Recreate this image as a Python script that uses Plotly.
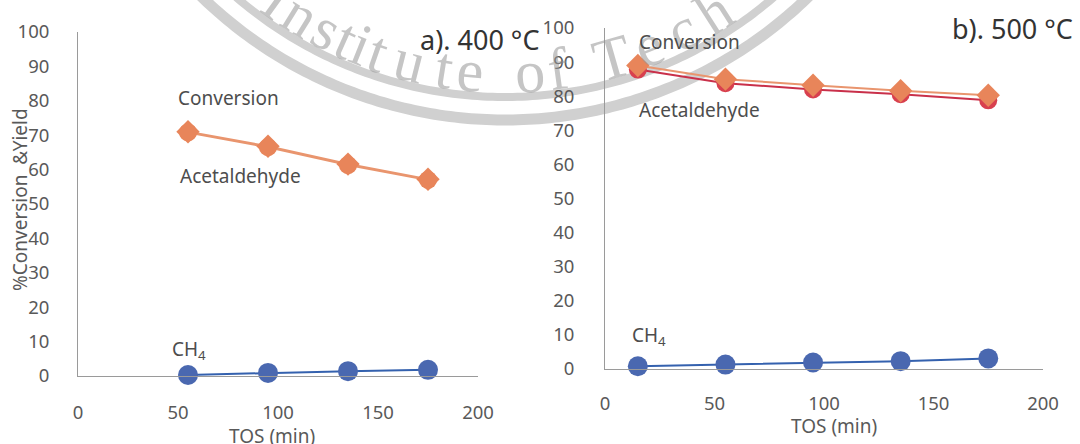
import numpy as np
import plotly.graph_objects as go

# ---- data ----
tos_a = [55, 95, 135, 175]
conv_a = [71.0, 66.8, 61.6, 57.2]
acet_a = [70.8, 66.5, 61.3, 57.0]
ch4_a = [0.3, 0.9, 1.4, 1.8]

tos_b = [15, 55, 95, 135, 175]
conv_b = [89.0, 85.0, 83.2, 81.6, 80.3]
acet_b = [87.8, 83.8, 82.0, 80.6, 78.8]
ch4_b = [0.8, 1.3, 1.9, 2.3, 3.1]

x_ticks = [0, 50, 100, 150, 200]
y_ticks = [0, 10, 20, 30, 40, 50, 60, 70, 80, 90, 100]

W, H = 1080, 444
FONT = "Noto Sans"
TICKC = "#595959"
ORANGE = "#E8855A"
ORANGE_LINE = "#E9956E"
RED = "#D8404E"
RED_LINE = "#C9304A"
BLUE = "#4A68B0"
BLUE_LINE = "#3461AE"


def px(x):
    return x / W


def py(y):
    return 1 - y / H


fig = go.Figure()

# panel a
fig.add_trace(go.Scatter(x=tos_a, y=acet_a, mode="lines+markers", name="Acetaldehyde",
                         line=dict(color=ORANGE_LINE, width=2),
                         marker=dict(symbol="circle", size=18, color=ORANGE),
                         xaxis="x", yaxis="y", cliponaxis=False))
fig.add_trace(go.Scatter(x=tos_a, y=conv_a, mode="lines+markers", name="Conversion",
                         line=dict(color=ORANGE_LINE, width=2),
                         marker=dict(symbol="diamond", size=18, color=ORANGE),
                         xaxis="x", yaxis="y", cliponaxis=False))
fig.add_trace(go.Scatter(x=tos_a, y=ch4_a, mode="lines+markers", name="CH4",
                         line=dict(color=BLUE_LINE, width=2),
                         marker=dict(symbol="circle", size=20, color=BLUE),
                         xaxis="x", yaxis="y", cliponaxis=False))

# panel b
fig.add_trace(go.Scatter(x=tos_b, y=acet_b, mode="lines+markers", name="Acetaldehyde",
                         line=dict(color=RED_LINE, width=2),
                         marker=dict(symbol="circle", size=18, color=RED),
                         xaxis="x2", yaxis="y2", cliponaxis=False))
fig.add_trace(go.Scatter(x=tos_b, y=conv_b, mode="lines+markers", name="Conversion",
                         line=dict(color=ORANGE_LINE, width=2),
                         marker=dict(symbol="diamond", size=18, color=ORANGE),
                         xaxis="x2", yaxis="y2", cliponaxis=False))
fig.add_trace(go.Scatter(x=tos_b, y=ch4_b, mode="lines+markers", name="CH4",
                         line=dict(color=BLUE_LINE, width=2),
                         marker=dict(symbol="circle", size=20, color=BLUE),
                         xaxis="x2", yaxis="y2", cliponaxis=False))

axis_common = dict(showgrid=False, zeroline=False, showline=True, linecolor="#9a9a9a",
                   linewidth=1, ticks="", tickfont=dict(family=FONT, size=18.5, color=TICKC),
                   automargin=False)

fig.update_layout(
    width=W, height=H,
    margin=dict(l=0, r=0, t=0, b=0),
    paper_bgcolor="white", plot_bgcolor="rgba(0,0,0,0)",
    showlegend=False,
    xaxis=dict(domain=[px(78), px(478)], range=[0, 200], tickvals=x_ticks,
               anchor="y", ticklabelstandoff=20, **axis_common),
    yaxis=dict(domain=[py(376), py(32)], range=[0, 100], tickvals=y_ticks,
               anchor="x", ticklabelstandoff=24, **axis_common),
    xaxis2=dict(domain=[px(605), px(1043)], range=[0, 200], tickvals=x_ticks,
                anchor="y2", ticklabelstandoff=18, **axis_common),
    yaxis2=dict(domain=[py(369), py(28)], range=[0, 100], tickvals=y_ticks,
                anchor="x2", ticklabelstandoff=26, **axis_common),
)

# ---- faint seal watermark (scanned-page artefact) ----
SEAL_C = (505.0, -315.0)
shapes = []
for radius, lw in [(435, 11), (412, 8)]:
    ang = np.linspace(-1.2, 1.2, 200)
    xs = SEAL_C[0] + radius * np.sin(ang)
    ys = SEAL_C[1] + radius * np.cos(ang)
    path = "M " + " L ".join(f"{px(a):.5f},{py(b):.5f}" for a, b in zip(xs, ys))
    shapes.append(dict(type="path", path=path, xref="paper", yref="paper",
                       line=dict(color="#d0d0d0", width=lw), layer="below"))
fig.update_layout(shapes=shapes)

seal_letters = list("Institute of Techn")
seal_x = [278, 301, 326, 346, 361, 378, 410, 444, 470, None, 530, 558, None,
          612, 648, 682, 714, 750]
R_TXT = 388.0
ann = []
for ch, lx in zip(seal_letters, seal_x):
    if lx is None:
        continue
    dx = lx - SEAL_C[0]
    ly = SEAL_C[1] + np.sqrt(R_TXT ** 2 - dx ** 2)
    if ly < -5:
        continue
    ang = np.degrees(np.arcsin(-dx / R_TXT))
    ann.append(dict(text=ch, x=px(lx), y=py(ly), xanchor="center", yanchor="middle",
                    textangle=float(ang),
                    font=dict(family="Liberation Serif", size=60, color="rgba(150,150,150,0.55)")))

LBL = dict(family=FONT, size=19, color="#4d4d4d")
ann += [
    dict(text="a). 400 °C", x=px(418), y=py(40), xanchor="left", yanchor="middle",
         font=dict(family=FONT, size=27, color="#333333")),
    dict(text="b). 500 °C", x=px(950), y=py(28), xanchor="left", yanchor="middle",
         font=dict(family=FONT, size=27, color="#333333")),
    dict(text="Conversion", x=px(176), y=py(98), xanchor="left", yanchor="middle", font=LBL),
    dict(text="Acetaldehyde", x=px(178), y=py(176), xanchor="left", yanchor="middle", font=LBL),
    dict(text="CH<sub>4</sub>", x=px(170), y=py(350), xanchor="left", yanchor="middle", font=LBL),
    dict(text="Conversion", x=px(637), y=py(42), xanchor="left", yanchor="middle", font=LBL),
    dict(text="Acetaldehyde", x=px(637), y=py(110), xanchor="left", yanchor="middle", font=LBL),
    dict(text="CH<sub>4</sub>", x=px(630), y=py(336), xanchor="left", yanchor="middle", font=LBL),
    dict(text="%Conversion  &Yield", x=px(20), y=py(200), xanchor="center", yanchor="middle",
         textangle=-90, font=dict(family=FONT, size=19, color=TICKC)),
    dict(text="TOS (min)", x=px(272), y=py(436), xanchor="center", yanchor="middle",
         font=dict(family=FONT, size=19, color=TICKC)),
    dict(text="TOS (min)", x=px(834), y=py(426), xanchor="center", yanchor="middle",
         font=dict(family=FONT, size=19, color=TICKC)),
]
for a in ann:
    a.update(xref="paper", yref="paper", showarrow=False)
fig.update_layout(annotations=ann)

fig.write_html("out.html", config={"displayModeBar": False},
               post_script="document.body.style.margin='0';document.body.style.overflow='hidden';")
